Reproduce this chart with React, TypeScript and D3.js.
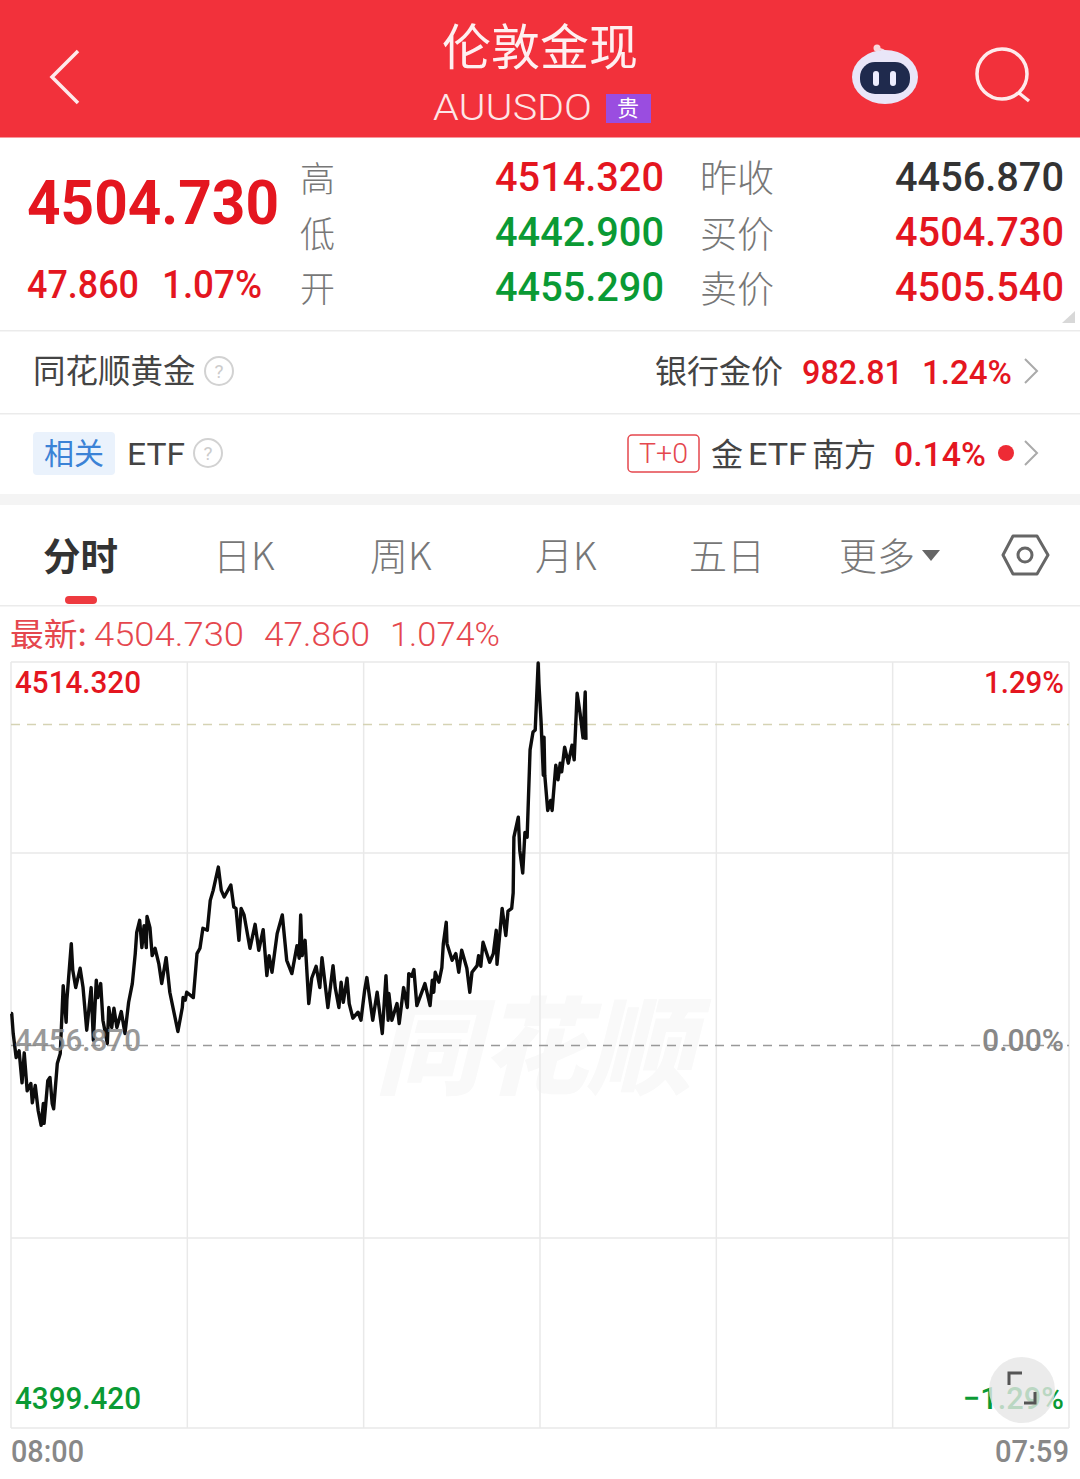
import React from "react";
import * as d3 from "d3";

const prevClose = 4456.87;
const highPrice = 4514.32;
const lowPrice = 4399.42;
const lastLinePrice = 4505.1;
const sessionMinutes = 1439;
const minutes = [0,1,3,7,11,15,18,22,27,29,33,37,41,44,45,50,53,56,58,63,67,71,75,76,82,84,88,94,98,103,109,112,116,118,122,125,131,133,137,140,144,150,155,160,165,169,171,175,178,181,184,185,189,192,196,201,205,211,216,222,227,233,234,237,239,248,253,257,261,267,271,275,282,286,290,299,303,306,310,313,317,325,332,337,343,348,351,355,362,369,375,382,389,392,394,396,400,405,409,415,420,423,431,438,441,446,449,452,457,460,465,472,476,481,484,492,498,505,510,513,514,518,525,528,534,539,541,545,548,552,563,570,573,575,577,582,586,588,592,593,600,605,609,613,620,624,627,634,636,639,642,651,656,660,661,668,673,676,681,683,684,690,692,696,699,702,706,710,713,717,718,721,724,725,726,730,734,736,741,744,747,749,753,758,763,766,770,774,778,781,782];
const changes = [4.8,4.8,1.8,-1.8,-0.8,-5.6,-1.1,-6.8,-5.7,-8.6,-6.0,-9.8,-12.0,-8.7,-11.7,-5.3,-4.8,-8.7,-9.5,-2.7,-1.2,9.0,3.5,6.8,15.3,11.3,8.7,11.6,8.7,2.3,8.7,0.8,9.8,7.2,9.3,3.8,0.3,5.7,2.7,5.6,2.7,5.1,1.8,6.5,9.3,13.8,17.0,18.8,14.7,18.0,14.7,19.4,17.7,13.5,14.6,12.3,9.3,13.2,8.0,4.8,2.1,5.7,7.2,6.8,8.0,7.2,13.8,14.6,17.6,17.3,21.8,23.3,26.8,23.3,22.3,24.1,20.8,20.6,15.8,20.6,19.6,14.6,18.2,14.3,17.4,10.5,13.5,11.0,16.8,19.6,12.8,10.8,15.0,13.1,19.6,13.5,15.8,6.3,10.1,11.9,8.7,13.2,5.7,12.0,8.7,5.7,9.5,6.5,10.1,6.3,4.1,5.0,3.8,8.3,10.2,3.8,8.0,1.8,10.5,3.8,7.8,3.8,6.3,3.3,8.7,5.7,10.8,10.4,11.4,6.0,9.3,6.0,9.8,8.0,11.0,9.5,11.7,15.3,18.5,15.3,12.8,13.8,11.0,14.3,11.6,8.0,11.0,12.0,13.5,11.9,15.5,12.5,13.8,17.3,12.2,20.6,16.5,20.2,20.6,22.9,31.3,34.3,29.3,25.9,32.0,31.3,44.4,47.1,47.4,57.45,54.4,48.6,40.6,46.3,40.6,35.3,36.8,35.3,42.1,39.9,42.4,41.1,44.8,42.4,45.1,42.9,52.9,49.9,46.2,53.1,45.9];
const tabs = ["日K", "周K", "月K", "五日"];
const tabStarts = [213, 370, 535, 689];
const timeLabels = ["08:00", "07:59"];

const DIGIT = "Roboto, sans-serif";
const CJK = "'Noto Sans CJK SC', sans-serif";
const RED = "#e4161f";
const SOFT_RED = "#e5474e";
const GREEN = "#0a9a34";
const GRAY = "#777";

function T({ x, y, s, c, w, fw = 400, f = DIGIT, a = "start", o, children }: any) {
  return (
    <text x={x} y={y} fontSize={s} fill={c} fontWeight={fw} fontFamily={f} textAnchor={a} opacity={o}
      textLength={w} lengthAdjust={w ? "spacingAndGlyphs" : undefined}>
      {children}
    </text>
  );
}

const Help = ({ cx, cy }: any) => (
  <g>
    <circle cx={cx} cy={cy} r={14} fill="none" stroke="#d2d2d2" strokeWidth={2} />
    <T x={cx} y={cy + 7} s={19} c="#ccc" a="middle">?</T>
  </g>
);
const Chevron = ({ x, y }: any) => (
  <path d={`M${x},${y - 12}L${x + 12},${y}L${x},${y + 12}`} fill="none" stroke="#aaa" strokeWidth={2} />
);

export default function App() {
  const x = d3.scaleLinear().domain([0, sessionMinutes]).range([11, 1069]);
  const y = d3.scaleLinear().domain([lowPrice, highPrice]).range([1428, 663]);
  const line = d3.line<number>().x((m) => x(m)).y((_, i) => y(prevClose + changes[i])).curve(d3.curveLinear);
  const vGrid = d3.range(0, 7).map((i) => x((sessionMinutes * i) / 6));
  const hGrid = [662, 853, 1238, 1428];
  return (
    <div style={{ position: "absolute", left: 0, top: 0, width: 1080, height: 1479, overflow: "hidden" }}>
      <svg width={1080} height={1479} viewBox="0 0 1080 1479" style={{ display: "block", background: "#fff" }}>
        {/* header */}
        <rect width={1080} height={137.5} fill="#f2313b" />
        <path d="M78,51L52,77L78,103" fill="none" stroke="#fff" strokeOpacity={0.9} strokeWidth={3.5} />
        <T x={540} y={65} s={49} c="#fff" f={CJK} fw={400} a="middle" o={0.93}>伦敦金现</T>
        <T x={433} y={120} s={37} c="#fff" fw={300} w={159} o={0.88}>AUUSDO</T>
        <rect x={606} y={94} width={45} height={29} fill="#9a4de0" />
        <T x={628} y={116} s={22} c="#fff" f={CJK} a="middle">贵</T>
        {/* robot */}
        <path d="M877,49Q887,49 886,58" fill="none" stroke="#f4d6dc" strokeWidth={2.5} />
        <circle cx={877} cy={48} r={3.5} fill="#f8d8dc" />
        <ellipse cx={885} cy={77} rx={33} ry={27} fill="#e9e6f8" />
        <rect x={860} y={62} width={50} height={32} rx={15} fill="#1f2a4d" />
        <rect x={873} y={71} width={6} height={15} rx={3} fill="#eef" />
        <rect x={890} y={71} width={6} height={15} rx={3} fill="#eef" />
        {/* search */}
        <circle cx={1002} cy={74} r={25} fill="none" stroke="#fff" strokeOpacity={0.9} strokeWidth={3.5} />
        <path d="M1019,93L1029,101" stroke="#fff" strokeOpacity={0.9} strokeWidth={3.5} />

        {/* quote panel */}
        <T x={27} y={224} s={62} c={RED} fw={700} w={252}>4504.730</T>
        <T x={27} y={298} s={38} c={RED} fw={500} w={112}>47.860</T>
        <T x={162} y={298} s={38} c={RED} fw={500} w={100}>1.07%</T>
        {[["高", 192], ["低", 247], ["开", 302]].map(([t, b]: any) => (
          <T key={t} x={300} y={b} s={35} c={GRAY} f={CJK} fw={300}>{t}</T>
        ))}
        <T x={495} y={191} s={40} c={RED} fw={500} w={169}>4514.320</T>
        <T x={495} y={246} s={40} c={GREEN} fw={500} w={169}>4442.900</T>
        <T x={495} y={301} s={40} c={GREEN} fw={500} w={169}>4455.290</T>
        {[["昨收", 192], ["买价", 248], ["卖价", 303]].map(([t, b]: any) => (
          <T key={t} x={700} y={b} s={37} c={GRAY} f={CJK} fw={300}>{t}</T>
        ))}
        <T x={895} y={191} s={40} c="#333" fw={500} w={169}>4456.870</T>
        <T x={895} y={246} s={40} c={RED} fw={500} w={169}>4504.730</T>
        <T x={895} y={301} s={40} c={RED} fw={500} w={169}>4505.540</T>
        <path d="M1075,311V323H1062Z" fill="#d8d8d8" />
        <rect y={330} width={1080} height={1.5} fill="#ebebeb" />

        {/* gold row */}
        <T x={33} y={383} s={32.5} c="#444" f={CJK} fw={400}>同花顺黄金</T>
        <Help cx={219} cy={371} />
        <T x={655} y={383} s={32} c="#444" f={CJK}>银行金价</T>
        <T x={802} y={384} s={34} c={RED} fw={500} w={101}>982.81</T>
        <T x={922} y={384} s={34} c={RED} fw={500} w={90}>1.24%</T>
        <Chevron x={1025} y={371} />
        <rect y={413} width={1080} height={1.5} fill="#ebebeb" />

        {/* etf row */}
        <rect x={33} y={432} width={82} height={43} rx={4} fill="#eaf2fc" />
        <T x={74} y={464} s={30} c="#3b82d6" f={CJK} a="middle">相关</T>
        <T x={127} y={465} s={32} c="#444" w={58}>ETF</T>
        <Help cx={208} cy={453} />
        <rect x={628} y={435} width={71} height={37} rx={4} fill="#fff" stroke="#e5474e" strokeWidth={1.5} />
        <T x={639} y={463} s={27} c={SOFT_RED} fw={300} w={49}>T+0</T>
        <T x={711} y={466} s={32} c="#444" f={CJK}>金</T>
        <T x={748} y={465} s={32} c="#444" w={59}>ETF</T>
        <T x={812} y={466} s={32} c="#444" f={CJK}>南方</T>
        <T x={894} y={466} s={34} c={RED} fw={500} w={92}>0.14%</T>
        <circle cx={1006} cy={453} r={8} fill="#ee2b35" />
        <Chevron x={1025} y={453} />
        <rect y={494} width={1080} height={11} fill="#f4f4f4" />

        {/* tabs */}
        <T x={43} y={570} s={37.5} c="#333" f={CJK} fw={700}>分时</T>
        <rect x={65} y={596} width={32} height={8} rx={4} fill="#ee3a3f" />
        {tabs.map((t, i) => (
          <T key={t} x={tabStarts[i]} y={570} s={38} c={GRAY} f={CJK} fw={300}>{t}</T>
        ))}
        <T x={839} y={570} s={38} c={GRAY} f={CJK} fw={300}>更多</T>
        <path d="M922,550H940L931,561Z" fill="#666" />
        <path d="M1013,536H1037L1048,555L1037,574H1013L1003,555Z" fill="none" stroke="#666" strokeWidth={3} strokeLinejoin="round" />
        <circle cx={1025} cy={555} r={7} fill="none" stroke="#666" strokeWidth={3} />
        <rect y={605} width={1080} height={1.5} fill="#ebebeb" />

        {/* last-price legend */}
        <T x={10} y={646} s={32} c={SOFT_RED} f={CJK} fw={400} w={77}>最新:</T>
        <T x={94} y={646} s={34} c={SOFT_RED} fw={300} w={150}>4504.730</T>
        <T x={264} y={646} s={34} c={SOFT_RED} fw={300} w={106}>47.860</T>
        <T x={390} y={646} s={34} c={SOFT_RED} fw={300} w={110}>1.074%</T>

        {/* watermark */}
        <text x={534} y={1086} fontSize={106} fontFamily={CJK} fontWeight={900} fontStyle="italic" textAnchor="middle" fill="#f9f9f9">同花顺</text>

        {/* grid */}
        {vGrid.map((v, i) => (
          <line key={i} x1={v} x2={v} y1={662} y2={1428} stroke="#e9e9e9" strokeWidth={1.5} />
        ))}
        {hGrid.map((h) => (
          <line key={h} x1={11} x2={1069} y1={h} y2={h} stroke="#e9e9e9" strokeWidth={1.5} />
        ))}
        <line x1={11} x2={1069} y1={y(lastLinePrice)} y2={y(lastLinePrice)} stroke="#d5d3b4" strokeWidth={1.5} strokeDasharray="9 7" />
        <line x1={11} x2={1069} y1={y(prevClose)} y2={y(prevClose)} stroke="#999" strokeWidth={1.5} strokeDasharray="9 7" />

        {/* price line */}
        <path d={line(minutes) as string} fill="none" stroke="#0c0c0c" strokeWidth={3.4} strokeLinejoin="round" />

        {/* axis labels */}
        <T x={15} y={693} s={31} c={RED} fw={500} w={126}>{highPrice.toFixed(3)}</T>
        <T x={984} y={693} s={31} c={RED} fw={500} w={80}>1.29%</T>
        <T x={15} y={1051} s={31} c="#888" fw={500} w={126} o={0.85}>{prevClose.toFixed(3)}</T>
        <T x={982} y={1051} s={31} c="#888" fw={500} w={82}>0.00%</T>
        <T x={15} y={1409} s={31} c={GREEN} fw={500} w={126}>{lowPrice.toFixed(3)}</T>
        <T x={963} y={1409} s={31} c={GREEN} fw={500} w={101}>−1.29%</T>
        <T x={11} y={1462} s={31} c="#888" fw={500} w={73}>{timeLabels[0]}</T>
        <T x={995} y={1462} s={31} c="#888" fw={500} w={74}>{timeLabels[1]}</T>

        {/* expand button */}
        <circle cx={1022} cy={1390} r={33} fill="#e6e6e6" fillOpacity={0.8} />
        <path d="M1009,1385V1373H1022M1035,1392V1403H1024" fill="none" stroke="#555" strokeWidth={3} />
      </svg>
    </div>
  );
}
